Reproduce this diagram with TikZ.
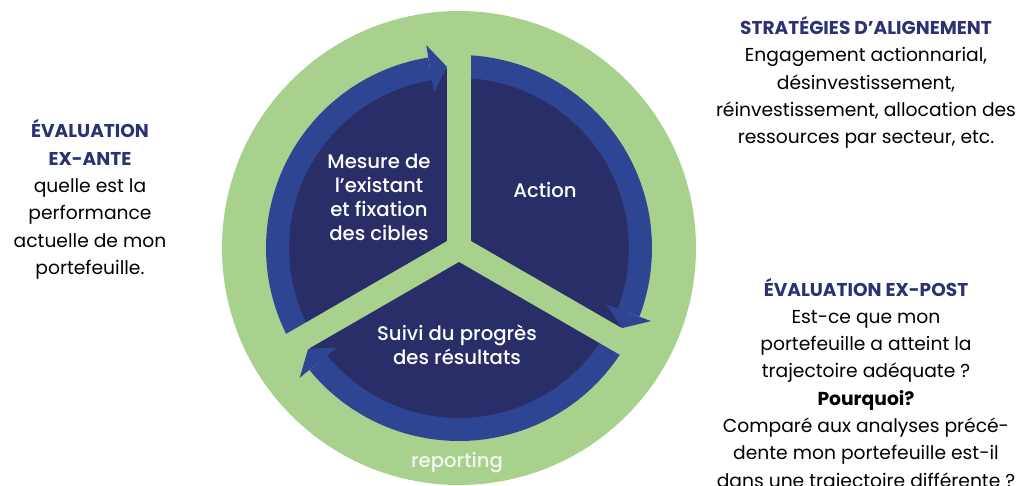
\documentclass[tikz,border=0pt]{standalone}
\usepackage{fontspec}
\setmainfont{Poppins}
\newfontfamily\poppinsmoyen{Poppins Medium}
\usepackage{xcolor}
\usetikzlibrary{calc}

\definecolor{vertcycle}{HTML}{A9D18E}
\definecolor{bleuanneau}{HTML}{2E4593}
\definecolor{bleunuit}{HTML}{292E68}
\definecolor{titrebleu}{HTML}{2B3273}
\definecolor{blanccasse}{HTML}{F2F7EE}

\newcommand{\titrebloc}[1]{{\color{titrebleu}\fontsize{13.2}{19.4}\selectfont\bfseries #1}}

\begin{document}
\begin{tikzpicture}[x=0.025cm, y=0.025cm,
    anneau/.style={bleuanneau, line width=0.575cm},
    bras/.style={vertcycle, line width=0.6cm},
    etape/.style={text=white, align=center, font=\poppinsmoyen\fontsize{14}{17}\selectfont},
    bloc/.style={align=center, font=\fontsize{13.3}{19.4}\selectfont}]

    \useasboundingbox (-459,-238) rectangle (560,248);

    % =================================================================
    % 1. CENTRE DU CYCLE
    % =================================================================
    \coordinate (O) at (0,0);

    % =================================================================
    % 2. DISQUES DE FOND
    % =================================================================
    \fill[vertcycle] (O) circle (237);
    \fill[bleunuit] (O) circle (180);

    % =================================================================
    % 3. ANNEAU BLEU : TROIS FLECHES DANS LE SENS HORAIRE
    % =================================================================
    % Secteur gauche, fleche vers le haut
    \draw[anneau] (210:181.5) arc[start angle=210, end angle=99.16, radius=181.5];
    \fill[bleuanneau] (93.79:181.5) -- (99.16:205.5) -- (99.16:157.5) -- cycle;

    % Secteur droit, fleche vers le bas
    \draw[anneau] (90:181.5) arc[start angle=90, end angle=-20.84, radius=181.5];
    \fill[bleuanneau] (-26.21:181.5) -- (-20.84:205.5) -- (-20.84:157.5) -- cycle;

    % Secteur du bas, fleche vers la gauche
    \draw[anneau] (-30:181.5) arc[start angle=-30, end angle=-140.84, radius=181.5];
    \fill[bleuanneau] (-146.21:181.5) -- (-140.84:205.5) -- (-140.84:157.5) -- cycle;

    % =================================================================
    % 4. SEPARATIONS VERTES EN Y
    % =================================================================
    \draw[bras] (O) -- (90:226);
    \draw[bras] (O) -- (210:226);
    \draw[bras] (O) -- (330:226);

    % =================================================================
    % 5. ETAPES DU CYCLE
    % =================================================================
    \node[etape] (mesure) at (-80,51) {Mesure de\\ l’existant\\ et fixation\\ des cibles};
    \node[etape] (action) at (86,58) {Action};
    \node[etape] (suivi) at (-2,-97) {Suivi du progrès\\ des résultats};
    \node[etape, text=blanccasse] (reporting) at (-2,-215) {reporting};

    % =================================================================
    % 6. TEXTES AUTOUR DU CYCLE
    % =================================================================
    \node[bloc] (exante) at (-369,48.5) {\titrebloc{ÉVALUATION}\\ \titrebloc{EX-ANTE}\\
        quelle est la\\ performance\\ actuelle de mon\\ portefeuille.};

    \node[bloc] (strategies) at (407,165.5) {\titrebloc{STRATÉGIES D’ALIGNEMENT}\\
        Engagement actionnarial,\\ désinvestissement,\\
        réinvestissement, allocation des\\ ressources par secteur, etc.};

    \node[bloc] (expost) at (407,-137) {\titrebloc{ÉVALUATION EX-POST}\\
        Est-ce que mon\\ portefeuille a atteint la\\ trajectoire adéquate ?\\
        \textbf{Pourquoi?}\\ Comparé aux analyses précé-\\
        dente mon portefeuille est-il\\ dans une trajectoire différente ?};

\end{tikzpicture}
\end{document}
